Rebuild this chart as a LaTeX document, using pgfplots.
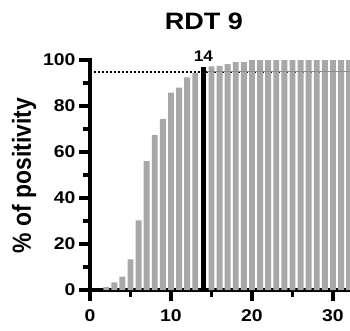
\documentclass[border=0pt]{standalone}
\usepackage{fontspec}
\setmainfont{Liberation Sans}
\usepackage{graphicx}
\usepackage{pgfplots}
\pgfplotsset{compat=1.18}
\definecolor{bargray}{RGB}{168,168,168}
\begin{document}
\begin{tikzpicture}[x=1pt,y=1pt]
\useasboundingbox (0,0) rectangle (350,330);
\begin{axis}[
  at={(90pt,40pt)}, anchor=south west,
  scale only axis, width=260pt, height=230pt,
  xmin=0, xmax=32.1, ymin=0, ymax=100,
  axis x line=bottom, axis y line=left,
  axis line style={-, line width=4pt, line cap=rect},
  xtick={0,10,20,30}, minor xtick={5,15,25},
  ytick={0,20,40,60,80,100}, minor ytick={10,30,50,70,90},
  tick align=outside,
  major tick length=11pt, minor tick length=7pt,
  tick style={line width=3.2pt, black},
  /pgf/number format/assume math mode=true,
  ticklabel style={font=\bfseries\fontsize{17}{19}\selectfont},
  xticklabel={\scalebox{1.14}[1]{\pgfmathprintnumber{\tick}}},
  yticklabel={\scalebox{1.14}[1]{\pgfmathprintnumber{\tick}}},
  xticklabel style={yshift=-5pt},
  clip=false,
]
\addplot[black, line width=2pt, dash pattern=on 2pt off 2pt] coordinates {(0,95) (32.1,95)};
\addplot[ybar, bar width=5.9pt, bar shift=0pt, fill=bargray, draw=none] coordinates {
(2,1.2) (3,3.3) (4,5.8) (5,13.3) (6,30.3) (7,56) (8,67.4) (9,74.4) (10,85.8)
(11,88) (12,92.5) (13,94.4) (15,97.2) (16,97.4) (17,98.2) (18,99.1) (19,99.1)
(20,100) (21,100) (22,100) (23,100) (24,100) (25,100) (26,100) (27,100) (28,100)
(29,100) (30,100) (31,100) (32,100)};
\addplot[ybar, bar width=5pt, bar shift=0pt, fill=black, draw=none] coordinates {(14,96.9)};
\addplot[black!45, line width=0.8pt] coordinates {(14.4,95) (32.1,95)};
\node[anchor=base, font=\bfseries\fontsize{15.4}{17}\selectfont] at (axis cs:14,99.2) {\scalebox{1.12}[1]{14}};
\end{axis}
\node[anchor=base, font=\bfseries\fontsize{23.7}{26}\selectfont] at (204,300) {\scalebox{1.14}[1]{RDT 9}};
\node[rotate=90, font=\bfseries\fontsize{22.9}{24}\selectfont] at (24,154.5) {\scalebox{1}[1.14]{\% of positivity}};
\end{tikzpicture}
\end{document}
